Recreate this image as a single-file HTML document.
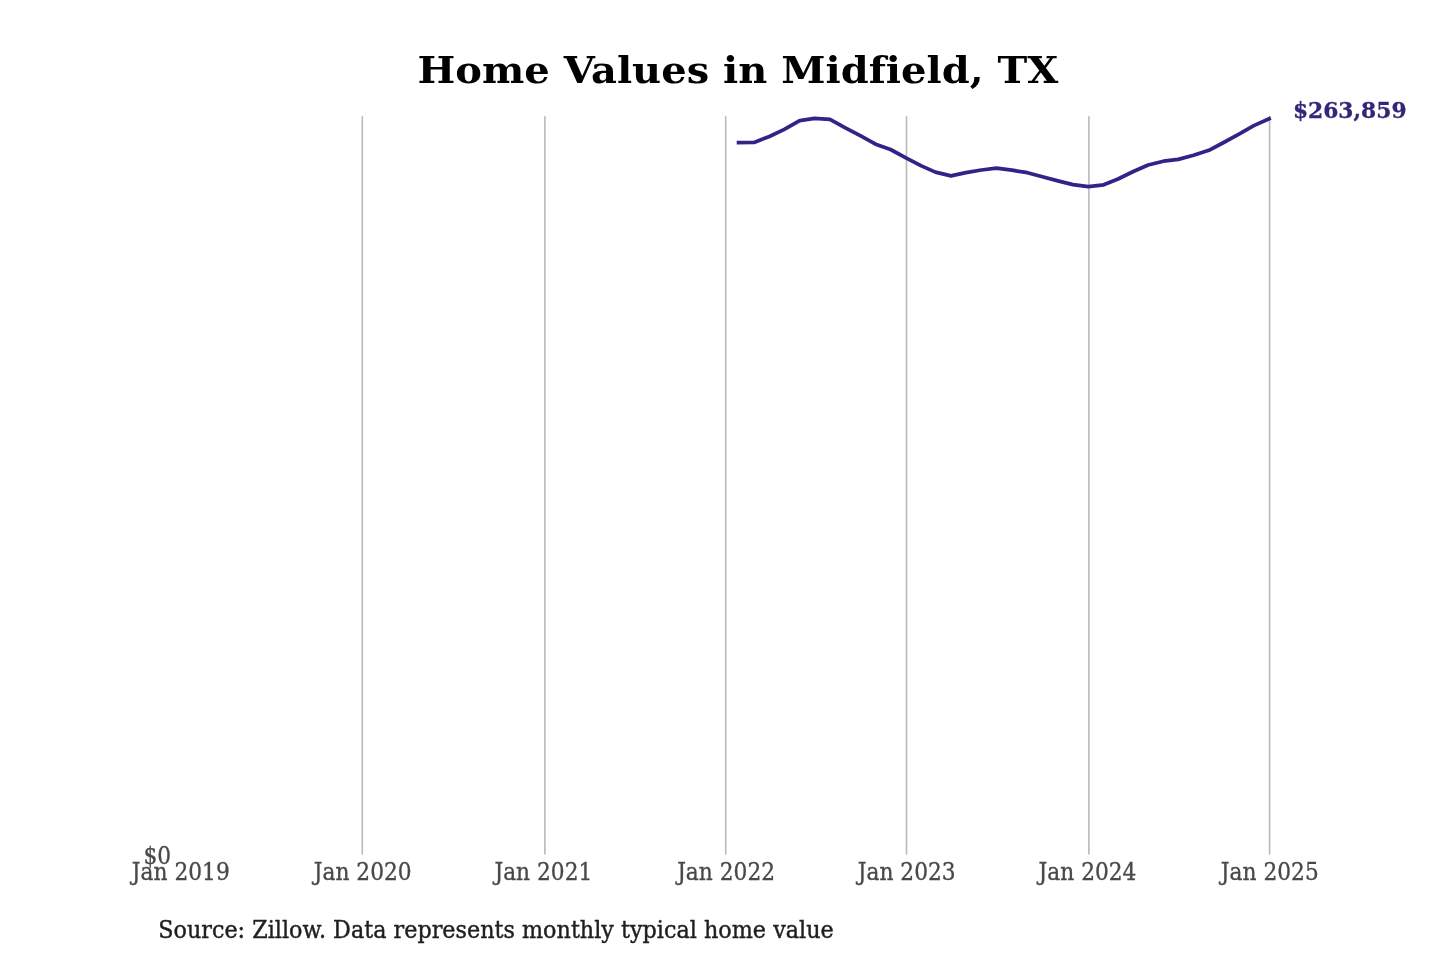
<!DOCTYPE html>
<html><head><meta charset="utf-8"><title>Home Values in Midfield, TX</title>
<style>
html,body{margin:0;padding:0;background:#fff;}
body{width:1440px;height:960px;overflow:hidden;}
svg{display:block;font-family:"DejaVu Serif","Liberation Serif",serif;font-variant-ligatures:none;font-feature-settings:"liga" 0,"clig" 0;filter:blur(0.65px);}
text{stroke-width:0.3px;paint-order:stroke;}
.grid line{stroke:#b9b9b9;stroke-width:1.6;}
.title{font-size:40px;font-weight:bold;fill:#000;stroke:none;}
.tick{font-size:21.75px;fill:#484848;stroke:#484848;}
.val{font-size:21.8px;font-weight:bold;fill:#302779;stroke:#302779;}
.src{font-size:22.3px;fill:#1e1e1e;stroke:#1e1e1e;stroke-width:0.4px;}
</style></head><body>
<svg width="1440" height="960" viewBox="0 0 1440 960">
<rect width="1440" height="960" fill="#fff"/>
<text id="title" class="title" transform="translate(737.9,83.1) scale(1,0.95)" text-anchor="middle">Home Values in Midfield, TX</text>
<g class="grid"><line x1="362.3" x2="362.3" y1="116.3" y2="854.4"/><line x1="544.9" x2="544.9" y1="116.3" y2="854.4"/><line x1="725.7" x2="725.7" y1="116.3" y2="854.4"/><line x1="906.5" x2="906.5" y1="116.3" y2="854.4"/><line x1="1088.9" x2="1088.9" y1="116.3" y2="854.4"/><line x1="1269.6" x2="1269.6" y1="116.3" y2="854.4"/></g>
<path d="M738.6,142.5 L754.04,142.4 L769.42,136.5 L784.31,129.4 L799.7,120.6 L814.58,118.4 L829.97,119.4 L845.35,127.9 L860.24,135.7 L875.63,144.2 L890.52,149.5 L905.9,157.8 L921.4,165.9 L935.4,172.1 L950.9,175.9 L965.9,172.7 L981.4,170.0 L996.4,168.2 L1011.9,170.2 L1027.4,172.7 L1042.4,176.8 L1057.9,180.9 L1072.9,184.6 L1088.4,186.6 L1103.71,184.8 L1118.03,179.0 L1133.33,171.5 L1148.15,165.0 L1163.45,161.2 L1178.26,159.4 L1193.57,155.3 L1208.87,150.3 L1223.68,142.5 L1238.99,134.06 L1253.8,125.6 L1269.11,118.8" fill="none" stroke="#332288" stroke-width="3.75" stroke-linejoin="round" stroke-linecap="square"/>
<text id="val" class="val" transform="translate(1292.9,118.3) scale(1,1.03)">$263,859</text>
<text class="tick" transform="translate(180.8,879.8) scale(1,1.08)" text-anchor="middle">Jan 2019</text><text class="tick" transform="translate(362.7,879.8) scale(1,1.08)" text-anchor="middle">Jan 2020</text><text class="tick" transform="translate(543.4,879.8) scale(1,1.08)" text-anchor="middle">Jan 2021</text><text class="tick" transform="translate(726.1,879.8) scale(1,1.08)" text-anchor="middle">Jan 2022</text><text class="tick" transform="translate(906.7,879.8) scale(1,1.08)" text-anchor="middle">Jan 2023</text><text class="tick" transform="translate(1087.5,879.8) scale(1,1.08)" text-anchor="middle">Jan 2024</text><text class="tick" transform="translate(1269.8,879.8) scale(1,1.08)" text-anchor="middle">Jan 2025</text>
<text id="zero" class="tick" transform="translate(171.2,863.8) scale(1,1.08)" text-anchor="end">$0</text>
<text id="src" class="src" transform="translate(158.2,938.4) scale(1,1.045)">Source: Zillow. Data represents monthly typical home value</text>
</svg>
</body></html>
